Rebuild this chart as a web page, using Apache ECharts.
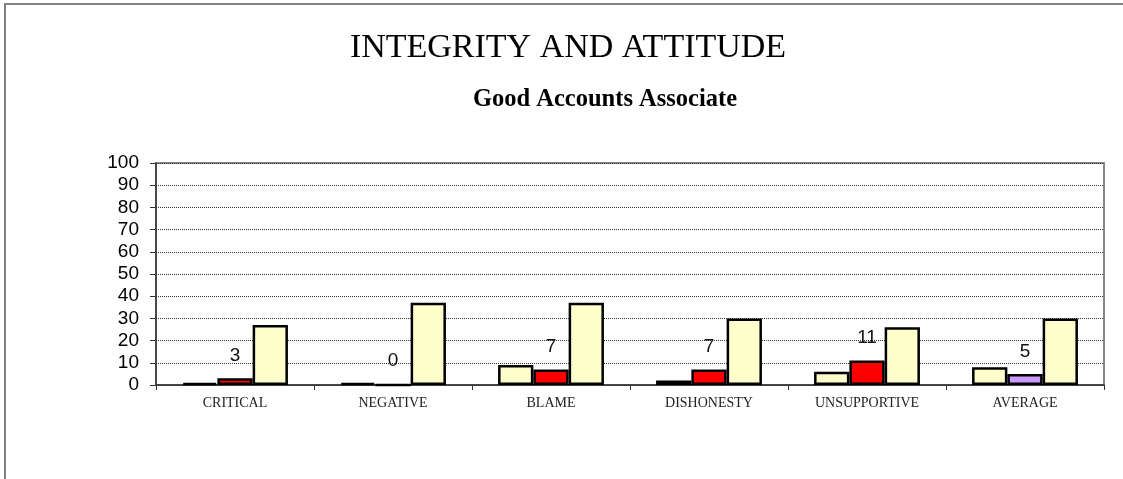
<!DOCTYPE html>
<html>
<head>
<meta charset="utf-8">
<script src="https://cdn.jsdelivr.net/npm/echarts@6/dist/echarts.min.js"></script>
<style>
html, body { margin: 0; padding: 0; background: #fff; }
#frame {
    position: absolute; left: 4px; top: 3px; width: 1119px; height: 476px;
    border-left: 2px solid #808080; border-top: 2px solid #808080;
}
#chart { position: absolute; left: 0; top: 0; width: 1123px; height: 479px; }
</style>
</head>
<body>
<div id="frame"></div>
<div id="chart"></div>
<script>
// categories and values
let categories = ['CRITICAL', 'NEGATIVE', 'BLAME', 'DISHONESTY', 'UNSUPPORTIVE', 'AVERAGE'];
let firstValues = [1, 1, 9, 2, 6, 8];
let scoreValues = [3, 0, 7, 7, 11, 5];
let thirdValues = [27, 37, 37, 30, 26, 30];
let scoreColors = ['#FF0000', '#FF0000', '#FF0000', '#FF0000', '#FF0000', '#CC99FF'];

let chart = echarts.init(document.getElementById('chart'));

let barBorder = { borderColor: '#000', borderWidth: 2.5 };

let options = {
    backgroundColor: 'transparent',
    animation: false,
    title: [
        {
            text: 'INTEGRITY AND ATTITUDE',
            left: 563, top: 26, textAlign: 'center',
            textStyle: { fontFamily: 'Liberation Serif', fontSize: 34, fontWeight: 'normal', color: '#000' }
        },
        {
            text: 'Good Accounts Associate',
            left: 600, top: 82, textAlign: 'center',
            textStyle: { fontFamily: 'Liberation Serif', fontSize: 24.5, fontWeight: 'bold', color: '#000' }
        }
    ],
    grid: {
        left: 156, top: 163, width: 948, height: 222,
        show: true, borderColor: '#888', borderWidth: 2, backgroundColor: 'transparent'
    },
    xAxis: {
        type: 'category',
        data: categories,
        axisLine: { lineStyle: { color: '#333', width: 1.5 } },
        axisTick: { show: true, length: 5, lineStyle: { color: '#333' } },
        axisLabel: { fontFamily: 'Liberation Serif', fontSize: 14, color: '#222', margin: 11 }
    },
    yAxis: {
        type: 'value',
        min: 0, max: 100, interval: 10,
        axisLine: { show: true, lineStyle: { color: '#333', width: 1.5 } },
        axisTick: { show: true, inside: false, length: 6, lineStyle: { color: '#333' } },
        axisLabel: { fontFamily: 'Liberation Sans', fontSize: 19, color: '#000', margin: 17 },
        splitLine: { lineStyle: { color: '#333', type: 'dotted', width: 1 } }
    },
    series: [
        {
            type: 'bar',
            data: firstValues,
            barGap: '0%',
            barCategoryGap: '33%',
            itemStyle: Object.assign({ color: '#FFFFCC' }, barBorder)
        },
        {
            type: 'bar',
            data: scoreValues.map((v, i) => ({ value: v, itemStyle: { color: scoreColors[i] } })),
            itemStyle: barBorder,
            label: {
                show: true, position: 'top', distance: 13,
                fontFamily: 'Liberation Sans', fontSize: 19, color: '#111'
            }
        },
        {
            type: 'bar',
            data: thirdValues,
            itemStyle: Object.assign({ color: '#FFFFCC' }, barBorder)
        }
    ]
};

chart.setOption(options);
</script>
</body>
</html>
